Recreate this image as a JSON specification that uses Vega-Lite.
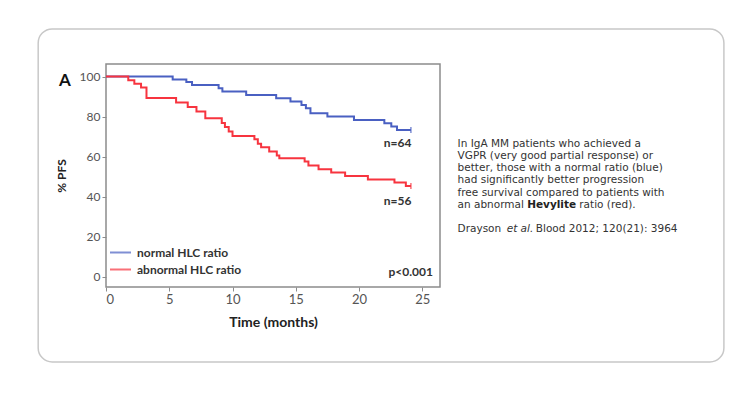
{
  "$schema": "https://vega.github.io/schema/vega-lite/v6.json",
  "width": 334,
  "height": 223,
  "autosize": {"type": "none"},
  "padding": {"left": 106, "top": 64, "right": 310, "bottom": 111},
  "background": "white",
  "config": {
    "view": {"stroke": "#8c8c8c", "strokeWidth": 1.5},
    "font": "Lato",
    "axis": {
      "grid": false,
      "domain": false,
      "tickColor": "#8c8c8c",
      "tickSize": 4,
      "labelColor": "#555555",
      "labelFont": "Lato",
      "titleFont": "Lato",
      "titleColor": "#222222",
      "titleFontWeight": "bold"
    }
  },
  "datasets": {
    "km": [
      {"group": "normal HLC ratio", "time": 0, "pfs": 100},
      {"group": "normal HLC ratio", "time": 5.27, "pfs": 98.6},
      {"group": "normal HLC ratio", "time": 6.35, "pfs": 97.3},
      {"group": "normal HLC ratio", "time": 6.8, "pfs": 95.8},
      {"group": "normal HLC ratio", "time": 8.9, "pfs": 94.2},
      {"group": "normal HLC ratio", "time": 9.2, "pfs": 92.5},
      {"group": "normal HLC ratio", "time": 11.08, "pfs": 90.8},
      {"group": "normal HLC ratio", "time": 13.45, "pfs": 89.2},
      {"group": "normal HLC ratio", "time": 14.58, "pfs": 87.5},
      {"group": "normal HLC ratio", "time": 15.45, "pfs": 85.8},
      {"group": "normal HLC ratio", "time": 15.8, "pfs": 84.2},
      {"group": "normal HLC ratio", "time": 16.16, "pfs": 81.7},
      {"group": "normal HLC ratio", "time": 17.5, "pfs": 80.0},
      {"group": "normal HLC ratio", "time": 19.6, "pfs": 78.3},
      {"group": "normal HLC ratio", "time": 22.0, "pfs": 76.7},
      {"group": "normal HLC ratio", "time": 22.55, "pfs": 75.0},
      {"group": "normal HLC ratio", "time": 23.0, "pfs": 73.3},
      {"group": "normal HLC ratio", "time": 24.1, "pfs": 73.3},
      {"group": "abnormal HLC ratio", "time": 0, "pfs": 100},
      {"group": "abnormal HLC ratio", "time": 1.76, "pfs": 98.2},
      {"group": "abnormal HLC ratio", "time": 2.24, "pfs": 96.4},
      {"group": "abnormal HLC ratio", "time": 2.77, "pfs": 94.6},
      {"group": "abnormal HLC ratio", "time": 3.2, "pfs": 89.3},
      {"group": "abnormal HLC ratio", "time": 5.54, "pfs": 87.0},
      {"group": "abnormal HLC ratio", "time": 6.46, "pfs": 84.8},
      {"group": "abnormal HLC ratio", "time": 7.15, "pfs": 82.5},
      {"group": "abnormal HLC ratio", "time": 7.85, "pfs": 79.2},
      {"group": "abnormal HLC ratio", "time": 9.15, "pfs": 76.8},
      {"group": "abnormal HLC ratio", "time": 9.4, "pfs": 74.8},
      {"group": "abnormal HLC ratio", "time": 9.7, "pfs": 72.5},
      {"group": "abnormal HLC ratio", "time": 10.0, "pfs": 70.3},
      {"group": "abnormal HLC ratio", "time": 11.73, "pfs": 68.7},
      {"group": "abnormal HLC ratio", "time": 12.0, "pfs": 66.4},
      {"group": "abnormal HLC ratio", "time": 12.26, "pfs": 64.7},
      {"group": "abnormal HLC ratio", "time": 12.9, "pfs": 62.5},
      {"group": "abnormal HLC ratio", "time": 13.5, "pfs": 60.5},
      {"group": "abnormal HLC ratio", "time": 13.7, "pfs": 59.2},
      {"group": "abnormal HLC ratio", "time": 15.7, "pfs": 57.5},
      {"group": "abnormal HLC ratio", "time": 16.0, "pfs": 55.6},
      {"group": "abnormal HLC ratio", "time": 16.8, "pfs": 53.7},
      {"group": "abnormal HLC ratio", "time": 17.8, "pfs": 52.0},
      {"group": "abnormal HLC ratio", "time": 18.9, "pfs": 50.3},
      {"group": "abnormal HLC ratio", "time": 20.7, "pfs": 48.6},
      {"group": "abnormal HLC ratio", "time": 22.8, "pfs": 47.0},
      {"group": "abnormal HLC ratio", "time": 23.7, "pfs": 45.3},
      {"group": "abnormal HLC ratio", "time": 24.1, "pfs": 45.3}
    ],
    "censor": [
      {"group": "normal HLC ratio", "time": 24.1, "pfs": 73.3},
      {"group": "abnormal HLC ratio", "time": 24.1, "pfs": 45.3}
    ]
  },
  "layer": [
    {
      "data": {"values": [{}]},
      "mark": {"type": "rect", "fill": null, "fillOpacity": 0, "stroke": "#c8c8c8", "strokeWidth": 1.5, "cornerRadius": 14, "clip": false},
      "encoding": {
        "x": {"datum": -5.36, "type": "quantitative"},
        "x2": {"datum": 48.84},
        "y": {"datum": 123.85, "type": "quantitative"},
        "y2": {"datum": -42.65}
      }
    },
    {
      "data": {"name": "km"},
      "mark": {"type": "line", "interpolate": "step-after", "strokeWidth": 2},
      "encoding": {
        "x": {
          "field": "time",
          "type": "quantitative",
          "scale": {"domain": [0, 26.4], "nice": false, "zero": false},
          "axis": {"values": [0, 5, 10, 15, 20, 25], "title": "Time (months)", "labelFontSize": 13, "titleFontSize": 14, "titlePadding": 9, "labelPadding": 2}
        },
        "y": {
          "field": "pfs",
          "type": "quantitative",
          "scale": {"domain": [-5.2, 106.3], "nice": false, "zero": false},
          "axis": {"values": [0, 20, 40, 60, 80, 100], "title": "% PFS", "labelFontSize": 12, "titleFontSize": 12, "titlePadding": 11, "labelPadding": 2}
        },
        "color": {
          "field": "group",
          "type": "nominal",
          "scale": {"domain": ["normal HLC ratio", "abnormal HLC ratio"], "range": ["#4a60c2", "#f7343f"]},
          "legend": {
            "title": null,
            "orient": "none",
            "legendX": 3,
            "legendY": 180,
            "symbolType": "stroke",
            "symbolSize": 441,
            "symbolStrokeWidth": 2,
            "labelFont": "Lato",
            "labelFontSize": 12,
            "labelFontWeight": "bold",
            "labelColor": "#333333",
            "rowPadding": 0,
            "clipHeight": 17,
            "labelOffset": 5,
            "padding": 0
          }
        }
      }
    },
    {
      "data": {"name": "censor"},
      "mark": {"type": "tick", "orient": "vertical", "size": 6, "thickness": 1.5},
      "encoding": {
        "x": {"field": "time", "type": "quantitative"},
        "y": {"field": "pfs", "type": "quantitative"},
        "color": {"field": "group", "type": "nominal"}
      }
    },
    {
      "data": {"values": [{}]},
      "mark": {"type": "text", "align": "right", "baseline": "middle", "fontWeight": "bold", "fontSize": 12, "color": "#333333"},
      "encoding": {
        "x": {"datum": 24.14, "type": "quantitative"},
        "y": {"datum": 67, "type": "quantitative"},
        "text": {"value": "n=64"}
      }
    },
    {
      "data": {"values": [{}]},
      "mark": {"type": "text", "align": "right", "baseline": "middle", "fontWeight": "bold", "fontSize": 12, "color": "#333333"},
      "encoding": {
        "x": {"datum": 24.14, "type": "quantitative"},
        "y": {"datum": 38, "type": "quantitative"},
        "text": {"value": "n=56"}
      }
    },
    {
      "data": {"values": [{}]},
      "mark": {"type": "text", "align": "right", "baseline": "middle", "fontWeight": "bold", "fontSize": 12, "color": "#333333"},
      "encoding": {
        "x": {"datum": 25.84, "type": "quantitative"},
        "y": {"datum": 2.5, "type": "quantitative"},
        "text": {"value": "p<0.001"}
      }
    },
    {
      "data": {"values": [{}]},
      "mark": {"type": "text", "align": "center", "baseline": "middle", "fontWeight": "bold", "fontSize": 17, "color": "#111111"},
      "encoding": {
        "x": {"datum": -3.24, "type": "quantitative"},
        "y": {"datum": 97.95, "type": "quantitative"},
        "text": {"value": "A"}
      }
    },
    {
      "data": {"values": [{}]},
      "mark": {"type": "text", "align": "left", "baseline": "middle", "font": "DejaVu Sans", "fontSize": 10.5, "lineHeight": 12.3, "color": "#333333"},
      "encoding": {
        "x": {"datum": 27.79, "type": "quantitative"},
        "y": {"datum": 66.55, "type": "quantitative"},
        "text": {"value": ["In IgA MM patients who achieved a", "VGPR (very good partial response) or", "better, those with a normal ratio (blue)", "had significantly better progression", "free survival compared to patients with"]}
      }
    },
    {
      "data": {"values": [{}]},
      "mark": {"type": "text", "align": "left", "baseline": "middle", "font": "DejaVu Sans", "fontSize": 10.5, "color": "#333333"},
      "encoding": {
        "x": {"datum": 27.79, "type": "quantitative"},
        "y": {"datum": 35.8, "type": "quantitative"},
        "text": {"value": "an abnormal"}
      }
    },
    {
      "data": {"values": [{}]},
      "mark": {"type": "text", "align": "left", "baseline": "middle", "font": "DejaVu Sans", "fontSize": 10.5, "fontWeight": "bold", "color": "#222222"},
      "encoding": {
        "x": {"datum": 33.29, "type": "quantitative"},
        "y": {"datum": 35.8, "type": "quantitative"},
        "text": {"value": "Hevylite"}
      }
    },
    {
      "data": {"values": [{}]},
      "mark": {"type": "text", "align": "left", "baseline": "middle", "font": "DejaVu Sans", "fontSize": 10.5, "color": "#333333"},
      "encoding": {
        "x": {"datum": 37.41, "type": "quantitative"},
        "y": {"datum": 35.8, "type": "quantitative"},
        "text": {"value": "ratio (red)."}
      }
    },
    {
      "data": {"values": [{}]},
      "mark": {"type": "text", "align": "left", "baseline": "middle", "font": "DejaVu Sans", "fontSize": 10.5, "color": "#333333"},
      "encoding": {
        "x": {"datum": 27.79, "type": "quantitative"},
        "y": {"datum": 23.85, "type": "quantitative"},
        "text": {"value": "Drayson"}
      }
    },
    {
      "data": {"values": [{}]},
      "mark": {"type": "text", "align": "left", "baseline": "middle", "font": "DejaVu Sans", "fontSize": 10.5, "fontStyle": "italic", "color": "#333333"},
      "encoding": {
        "x": {"datum": 31.67, "type": "quantitative"},
        "y": {"datum": 23.85, "type": "quantitative"},
        "text": {"value": "et al."}
      }
    },
    {
      "data": {"values": [{}]},
      "mark": {"type": "text", "align": "left", "baseline": "middle", "font": "DejaVu Sans", "fontSize": 10.5, "color": "#333333"},
      "encoding": {
        "x": {"datum": 33.97, "type": "quantitative"},
        "y": {"datum": 23.85, "type": "quantitative"},
        "text": {"value": "Blood 2012; 120(21): 3964"}
      }
    }
  ]
}
